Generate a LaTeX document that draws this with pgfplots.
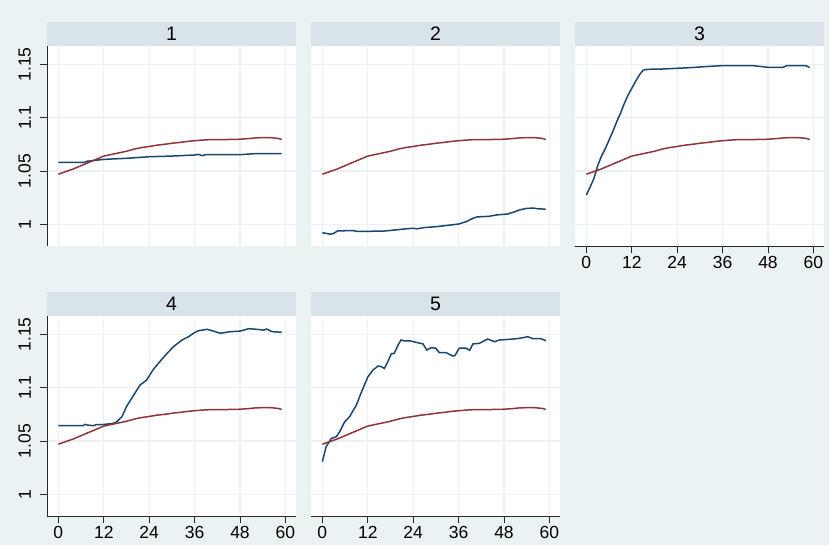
\documentclass[border=0pt]{standalone}
\usepackage{fontspec}
\setmainfont{Liberation Sans}
\usepackage{pgfplots}
\pgfplotsset{compat=1.18}
\usepackage{pgfplotstable}

\definecolor{bgc}{RGB}{234,242,243}
\definecolor{stripc}{RGB}{216,228,234}
\definecolor{gridc}{RGB}{234,242,243}
\definecolor{axisc}{RGB}{40,40,40}
\definecolor{navyc}{RGB}{26,71,111}
\definecolor{maroonc}{RGB}{144,53,59}

\pgfplotstableread{
x y
0 1.047
2 1.0495
4 1.052
6 1.055
8 1.058
10 1.061
12 1.064
14 1.0655
16 1.067
18 1.0685
20 1.0705
22 1.072
24 1.073
26 1.0742
28 1.075
30 1.076
32 1.0768
34 1.0777
36 1.0784
38 1.079
40 1.0794
42 1.0795
44 1.0795
46 1.0796
48 1.0798
50 1.0803
52 1.081
54 1.0813
56 1.0813
58 1.0806
59 1.0797
}\red

\pgfplotstableread{
x y
0 1.0581
7 1.0581
7.5 1.0591
12 1.0609
18 1.0619
24 1.0634
30 1.064
36 1.065
37 1.0656
38 1.0644
39 1.0653
45 1.0653
48 1.0653
52 1.0663
59 1.0663
}\blueA

\pgfplotstableread{
x y
0 0.9922
1 0.9915
2 0.9908
3 0.9915
4 0.9938
6 0.994
8 0.9942
9 0.9935
12 0.9935
16 0.9936
20 0.995
22 0.9958
24 0.9963
25 0.9958
27 0.997
30 0.9978
33 0.999
36 1.0003
38 1.0025
40 1.006
41 1.007
44 1.0075
46 1.0088
49 1.0097
51 1.012
52 1.0134
54 1.015
56 1.0152
57 1.0145
59 1.0143
}\blueB

\pgfplotstableread{
x y
0 1.0275
1 1.035
2 1.043
3 1.055
4 1.064
5 1.071
6 1.079
7 1.087
8 1.096
9 1.104
10 1.113
11 1.121
12 1.1275
13 1.134
14 1.140
15 1.1445
16 1.1453
18 1.1455
20 1.1456
24 1.1463
28 1.147
32 1.148
36 1.1488
40 1.1488
44 1.1488
46 1.148
48 1.1472
52 1.1472
53 1.1488
58 1.1488
59 1.147
}\blueC

\pgfplotstableread{
x y
0 1.0644
6.6 1.0644
7 1.0656
8 1.0648
9.3 1.0644
10 1.0653
12 1.0655
14.6 1.0666
15.4 1.068
16.8 1.0728
18 1.0822
19.9 1.093
21.6 1.1025
23.3 1.107
25 1.1166
26.8 1.1244
28.7 1.132
30.4 1.1384
32.7 1.1447
34.4 1.1478
35.7 1.151
37 1.1534
39.3 1.1547
41 1.153
42.8 1.151
45.4 1.1525
48 1.153
50.3 1.1553
52.5 1.1547
54.3 1.154
55 1.155
56.5 1.1525
59 1.152
}\blueD

\pgfplotstableread{
x y
0 1.0306
1 1.0447
2.4 1.0525
3.7 1.054
4.6 1.0588
5.9 1.068
7.2 1.0728
9 1.0838
10.2 1.0947
12 1.110
13.4 1.1166
14.7 1.1203
15.6 1.1197
16.4 1.118
17.3 1.1244
18.2 1.1316
19 1.1322
20 1.14
20.8 1.1447
21.7 1.1438
23 1.144
24.8 1.1425
26.6 1.141
27.6 1.1353
28.7 1.1375
30 1.137
30.9 1.1328
32.7 1.1328
34.5 1.1297
35 1.1300
36.2 1.137
38 1.137
38.9 1.135
39.8 1.141
41.5 1.1416
43.7 1.1456
45.5 1.1431
46.8 1.1447
49.4 1.1453
52 1.1462
54.3 1.1478
55.6 1.1459
57.8 1.1459
59.1 1.144
}\blueE

\pgfplotsset{
 panel/.style={
  scale only axis, width=249bp, height=200bp,
  xmin=-3, xmax=62.8, ymin=0.9797, ymax=1.1672,
  xtick={0,12,24,36,48,60}, ytick={1,1.05,1.1,1.15},
  axis lines*=left, axis line style={-, draw=axisc, line width=0.9bp},
  grid=major, major grid style={draw=gridc, line width=1.3bp},
  axis background/.style={fill=white},
  tick align=outside, major tick length=7bp,
  tick style={draw=axisc, line width=0.9bp},
  tick label style={font=\fontsize{17.5bp}{19bp}\selectfont},
  /pgf/number format/assume math mode=true,
  yticklabel style={rotate=90, anchor=south, inner ysep=9bp},
  every axis title shift=0pt,
  title style={fill=stripc, minimum width=249bp, minimum height=24bp, inner sep=0pt,
    font=\fontsize{19.5bp}{21bp}\selectfont, anchor=south, at={(0.5,1)}},
  anchor=south west,
  every axis plot/.append style={line width=1.5bp, mark=none},
 },
 nox/.style={x axis line style={draw=none}, xtick style={draw=none}, xticklabels={}},
 noy/.style={y axis line style={draw=none}, ytick style={draw=none}, yticklabels={}},
}

\begin{document}
\begin{tikzpicture}
\path[use as bounding box, fill=bgc] (0,0) rectangle (829bp,545bp);

\begin{axis}[panel, nox, at={(47bp,299bp)}, title={1}]
\addplot[navyc] table[x=x,y=y] {\blueA};
\addplot[maroonc] table[x=x,y=y] {\red};
\end{axis}

\begin{axis}[panel, nox, noy, at={(311bp,299bp)}, title={2}]
\addplot[navyc] table[x=x,y=y] {\blueB};
\addplot[maroonc] table[x=x,y=y] {\red};
\end{axis}

\begin{axis}[panel, noy, at={(575bp,299bp)}, title={3}]
\addplot[navyc] table[x=x,y=y] {\blueC};
\addplot[maroonc] table[x=x,y=y] {\red};
\end{axis}

\begin{axis}[panel, at={(47bp,29bp)}, title={4}]
\addplot[navyc] table[x=x,y=y] {\blueD};
\addplot[maroonc] table[x=x,y=y] {\red};
\end{axis}

\begin{axis}[panel, noy, at={(311bp,29bp)}, title={5}]
\addplot[navyc] table[x=x,y=y] {\blueE};
\addplot[maroonc] table[x=x,y=y] {\red};
\end{axis}
\end{tikzpicture}
\end{document}
